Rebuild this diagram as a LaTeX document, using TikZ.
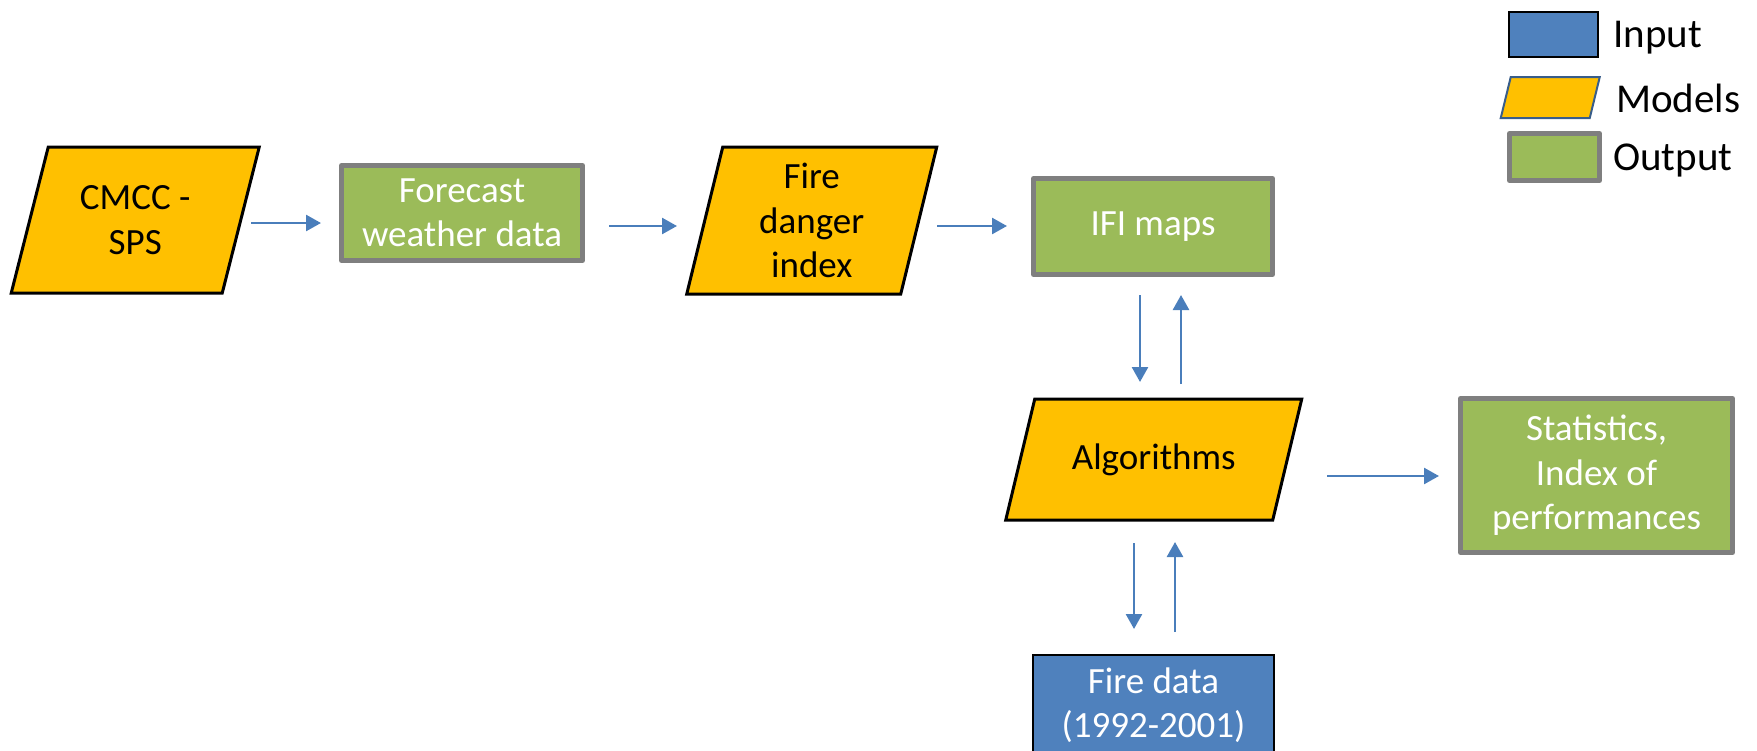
\documentclass[tikz,border=0pt]{standalone}
\usepackage{fontspec}
\setmainfont{Carlito}
\usetikzlibrary{arrows.meta,backgrounds,calc}

\definecolor{modelfill}{HTML}{FFC000}
\definecolor{outfill}{HTML}{9BBB59}
\definecolor{outedge}{HTML}{7F7F7F}
\definecolor{infill}{HTML}{4F81BD}
\definecolor{flow}{HTML}{4A7EBB}
\definecolor{legendedge}{HTML}{385D8A}

\tikzset{
  base/.style={outer sep=0pt, inner sep=0pt, align=center,
    font=\fontsize{37}{44.5}\selectfont},
  outbox/.style={base, draw=outedge, line width=5pt, line join=round,
    fill=outfill, text=white},
  inbox/.style={base, draw=black, line width=2pt, fill=infill, text=white},
  modeltext/.style={base, text=black},
  modelshape/.style={draw=black, line width=3pt, fill=modelfill, line join=miter},
  flowarrow/.style={draw=flow, line width=2.6pt,
    -{Triangle[length=15pt,width=16pt]}},
  legendtext/.style={anchor=base west, inner sep=0pt,
    font=\fontsize{41}{49}\selectfont},
}

% parallelogram drawn behind a named node: node name, slant, style
\newcommand\slanted[3]{%
  \begin{scope}[on background layer]
    \path[#3] ($(#1.north west)+(#2/2,0)$) -- ($(#1.north east)+(#2/2,0)$)
      -- ($(#1.south east)-(#2/2,0)$) -- ($(#1.south west)-(#2/2,0)$) -- cycle;
  \end{scope}}

\begin{document}
\begin{tikzpicture}[x=1pt,y=-1pt]
\useasboundingbox (0,0) rectangle (1757,750);

% main flow
\node[modeltext, minimum width=211pt, minimum height=146pt] (cmcc) at (135.25,220) {CMCC -\\SPS};
\slanted{cmcc}{37}{modelshape}
\node[outbox, minimum width=241pt, minimum height=95pt] (fc) at (462,213) {Forecast\\weather data};
\node[modeltext, minimum width=214pt, minimum height=147pt] (fdi) at (811.75,220.5) {Fire\\danger\\index};
\slanted{fdi}{36}{modelshape}
\node[outbox, minimum width=239pt, minimum height=96pt] (ifi) at (1153,226.5) {IFI maps};
\node[modeltext, minimum width=267pt, minimum height=121pt] (alg) at (1153.75,459.5) {Algorithms};
\slanted{alg}{29}{modelshape}
\node[outbox, minimum width=272pt, minimum height=154pt] (stats) at (1596.5,475.5) {Statistics,\\Index of\\performances};
\node[inbox, minimum width=241pt, minimum height=100pt] (fire) at (1153.5,705) {Fire data\\(1992-2001)};

% connectors
\draw[flowarrow, shorten >=20.5pt] ([shift={(10.5,3)}]cmcc.east) coordinate (p1) -- (p1 -| fc.west);
\draw[flowarrow, shorten >=27.75pt] ([shift={(26.5,13)}]fc.east) coordinate (p2) -- (p2 -| fdi.west);
\draw[flowarrow, shorten >=26.5pt] ([shift={(18.25,5.5)}]fdi.east) coordinate (p3) -- (p3 -| ifi.west);
\draw[flowarrow, shorten >=17pt] ([shift={(-13,20.5)}]ifi.south) coordinate (p4) -- (alg.north -| p4);
\draw[flowarrow, shorten >=20.5pt] ([shift={(27.25,-15)}]alg.north) coordinate (p5) -- (ifi.south -| p5);
\draw[flowarrow, shorten >=26pt] ([shift={(-19.75,23)}]alg.south) coordinate (p6) -- (fire.north -| p6);
\draw[flowarrow, shorten >=22pt] ([shift={(21.5,-23)}]fire.north) coordinate (p7) -- (alg.south -| p7);
\draw[flowarrow, shorten >=21.5pt] ([shift={(39.75,16.5)}]alg.east) coordinate (p8) -- (p8 -| stats.west);

% legend
\node[inbox, line width=2.5pt, minimum width=89pt, minimum height=45pt] (lin) at (1553.5,34.5) {};
\node[base, minimum width=89pt, minimum height=41pt] (lmod) at (1550.25,97.5) {};
\slanted{lmod}{10}{draw=legendedge, line width=2pt, fill=modelfill}
\node[outbox, minimum width=90pt, minimum height=47pt] (lout) at (1554.5,157) {};
\node[legendtext] (tin) at (1613,47) {Input};
\node[legendtext] (tmod) at (1616,112) {Models};
\node[legendtext] (tout) at (1613,170) {Output};
\end{tikzpicture}
\end{document}
